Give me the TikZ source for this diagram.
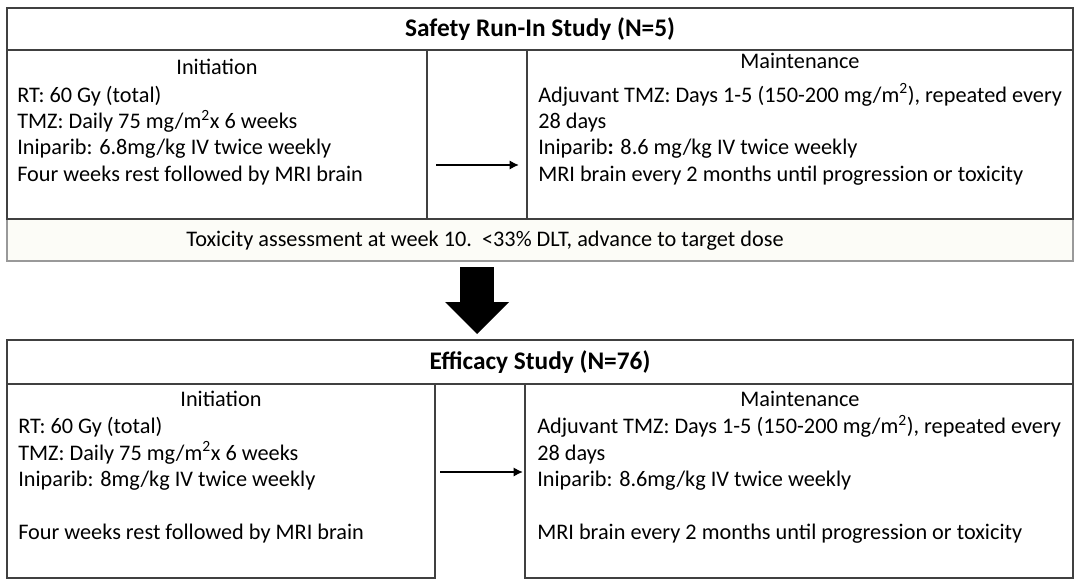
\documentclass[tikz,border=0pt]{standalone}
\usepackage{fontspec}
\setmainfont{Carlito}
\usetikzlibrary{arrows.meta,calc}
\tikzset{>={Latex[length=7pt,width=7pt]}}
\def\u{0.75pt}
\colorlet{boxcol}{black!75}
\colorlet{toxcol}{black!40}
\definecolor{toxfill}{RGB}{252,252,247}
\tikzstyle{cell}=[draw=boxcol,line width=0.9pt,rectangle,anchor=north west,inner sep=0,outer sep=0]
\tikzstyle{head}=[font=\fontsize{19}{22}\selectfont\bfseries]
\tikzstyle{lab}=[font=\fontsize{16.7}{19.7}\selectfont,anchor=base,inner sep=0]
\tikzstyle{body}=[font=\fontsize{16.7}{19.7}\selectfont,align=left,anchor=base west,inner sep=0]
\tikzstyle{flow}=[->,line width=1.6pt,black]
\tikzstyle{bigflow}=[line width=25.5pt,black,-{Triangle[length=24pt,width=48pt,line width=0pt]}]

\begin{document}
\begin{tikzpicture}[x=\u,y=-\u]
  \useasboundingbox (0,0) rectangle (1080,588);

  % SAFETY RUN-IN
  \node[cell,head,minimum width=1066*\u,minimum height=42*\u] (title1) at (7,8) {Safety Run-In Study (N=5)};
  \node[cell,draw=toxcol,fill=toxfill,minimum width=1066*\u,minimum height=42*\u] (tox) at (7,219) {};
  \node[cell,minimum width=420*\u,minimum height=169*\u] (init1) at (7,50) {};
  \node[cell,minimum width=100*\u,minimum height=169*\u] (mid1) at (427,50) {};
  \node[cell,minimum width=546*\u,minimum height=169*\u] (maint1) at (527,50) {};

  % base anchor sits on the last line
  \node[lab] (ini1lab) at (217,75) {Initiation};
  \node[body] (ini1txt) at (17,181) {RT: 60 Gy (total)\\
    TMZ: Daily 75 mg/m\textsuperscript{2}x 6 weeks\\
    Iniparib: 6.8mg/kg IV twice weekly\\
    Four weeks rest followed by MRI brain};
  \node[lab] (mnt1lab) at (800,69) {Maintenance};
  \node[body] (mnt1txt) at (538,181) {Adjuvant TMZ: Days 1-5 (150-200 mg/m\textsuperscript{2}), repeated every\\
    28 days\\
    Iniparib\textbf{:} 8.6 mg/kg IV twice weekly\\
    MRI brain every 2 months until progression or toxicity};
  \node[lab] (toxtxt) at (485,246) {Toxicity assessment at week 10.\ \ <33\% DLT, advance to target dose};

  \coordinate (a1) at (0,165);
  \draw[flow,shorten <=9*\u,shorten >=8*\u] (init1.east |- a1) -- (maint1.west |- a1);

  % EFFICACY
  \node[cell,head,minimum width=1066*\u,minimum height=44*\u] (title2) at (7,340) {Efficacy Study (N=76)};
  \node[cell,minimum width=428*\u,minimum height=194*\u] (init2) at (7,384) {};
  \node[cell,minimum width=548*\u,minimum height=194*\u] (maint2) at (525,384) {};

  \node[lab] (ini2lab) at (221,406) {Initiation};
  \node[body] (ini2txt) at (18,539) {RT: 60 Gy (total)\\
    TMZ: Daily 75 mg/m\textsuperscript{2}x 6 weeks\\
    Iniparib: 8mg/kg IV twice weekly\\[19.7pt]
    Four weeks rest followed by MRI brain};
  \node[lab] (mnt2lab) at (800,406) {Maintenance};
  \node[body] (mnt2txt) at (537,539) {Adjuvant TMZ: Days 1-5 (150-200 mg/m\textsuperscript{2}), repeated every\\
    28 days\\
    Iniparib: 8.6mg/kg IV twice weekly\\[19.7pt]
    MRI brain every 2 months until progression or toxicity};

  \coordinate (a2) at (0,472);
  \draw[flow,shorten <=5*\u,shorten >=2*\u] (init2.east |- a2) -- (maint2.west |- a2);

  % BIG ARROW
  \coordinate (bx) at (477,0);
  \draw[bigflow,shorten <=6*\u,shorten >=6*\u] (tox.south -| bx) -- (title2.north -| bx);

\end{tikzpicture}
\end{document}
